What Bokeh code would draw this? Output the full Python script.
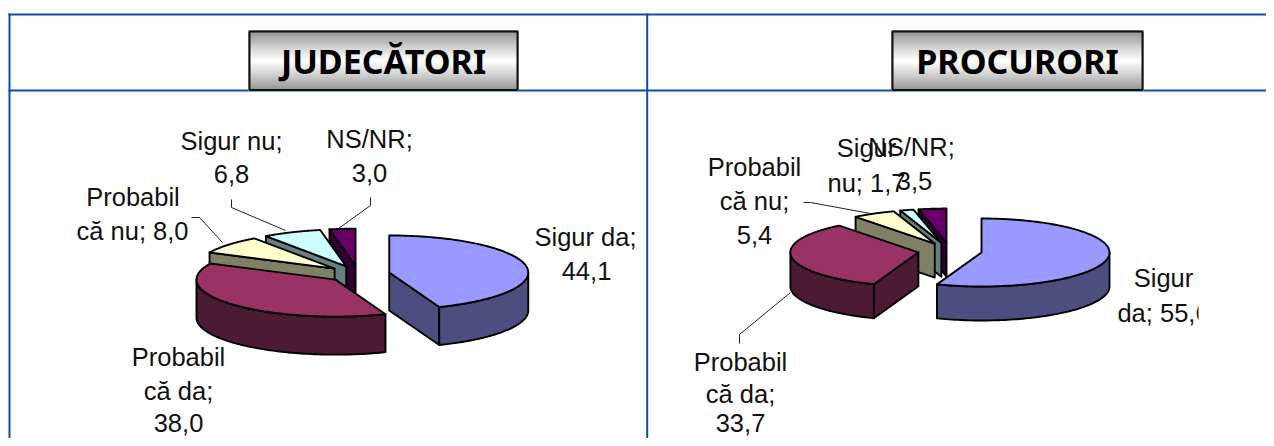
import numpy as np
from bokeh.plotting import figure
from bokeh.models import Range1d
from bokeh.core.properties import value
from bokeh.embed import file_html
from bokeh.resources import INLINE

# ---- data ----
categories = ["Sigur da", "Probabil că da", "Probabil că nu", "Sigur nu", "NS/NR"]
judecatori = [44.1, 38.0, 8.0, 6.8, 3.0]
procurori = [55.6, 33.7, 5.4, 1.7, 3.5]
titles = ["JUDECĂTORI", "PROCURORI"]
top_colors = ["#9999FF", "#993366", "#FFFFCC", "#CCFFFF", "#660066"]
wall_colors = ["#4D4D80", "#4D1A33", "#808066", "#668080", "#330033"]

BLUE = "#0B4EA2"
LABEL_FONT = "Liberation Sans"
LABEL_SIZE = "25.5px"
TITLE_FONT = "Noto Sans"
TITLE_SIZE = "34px"

p = figure(width=1266, height=438, x_range=Range1d(0, 1266), y_range=Range1d(438, 0),
           toolbar_location=None, output_backend="svg", min_border=0,
           x_axis_type=None, y_axis_type=None, outline_line_color=None,
           background_fill_color="white", border_fill_color="white")


def pie3d(vals, cx, cy, rx, ry, depth, explode):
    total = sum(vals)
    edges = np.concatenate([[0], np.cumsum(vals)]) / total * 360.0
    wedges = []
    for i, v in enumerate(vals):
        a0, a1 = edges[i], edges[i + 1]
        mid = np.radians((a0 + a1) / 2)
        wx = cx + explode * rx * np.sin(mid)
        wy = cy - explode * ry * np.cos(mid)
        wedges.append((i, a0, a1, wx, wy))
    # painter order: back wedges first
    for i, a0, a1, wx, wy in wedges[2:][::-1] + wedges[1::-1]:
        def pt(a):
            r = np.radians(a)
            return wx + rx * np.sin(r), wy - ry * np.cos(r)
        style = dict(line_color="black", line_width=1.9, line_join="round")
        for a, normal in ((a0, a0 - 90), (a1, a1 + 90)):
            if np.cos(np.radians(normal)) < -1e-6:
                x1, y1 = pt(a)
                p.patch([wx, x1, x1, wx], [wy, y1, y1 + depth, wy + depth],
                        fill_color=wall_colors[i], **style)
        lo, hi = max(a0, 90), min(a1, 270)
        if hi > lo:
            t = np.linspace(lo, hi, 80)
            xs = wx + rx * np.sin(np.radians(t))
            ys = wy - ry * np.cos(np.radians(t))
            p.patch(np.concatenate([xs, xs[::-1]]), np.concatenate([ys, ys[::-1] + depth]),
                    fill_color=wall_colors[i], **style)
        t = np.linspace(a0, a1, 120)
        xs = wx + rx * np.sin(np.radians(t))
        ys = wy - ry * np.cos(np.radians(t))
        p.patch(np.concatenate([[wx], xs]), np.concatenate([[wy], ys]),
                fill_color=top_colors[i], **style)


pie3d(judecatori, 358, 273.5, 139, 37, 38, 0.225)
pie3d(procurori, 949.5, 250.5, 128, 34, 34, 0.25)

# ---- leader lines ----
leaders = [([231, 231, 285], [199, 207, 230]),
           ([370, 370, 338], [197, 205, 228]),
           ([191, 199, 222], [217, 217, 242]),
           ([803, 810, 870], [202, 202, 213]),
           ([739, 739, 790], [343, 334, 292])]
for lx, ly in leaders:
    p.line(lx, ly, line_color="#222222", line_width=1)

TEXT_SHIFT = -10


def lab(x, y, s):
    p.text([x], [y + TEXT_SHIFT], text=[s], text_font=value(LABEL_FONT), text_font_size=LABEL_SIZE,
           text_align="center", text_baseline="alphabetic", text_color="#111111")


def num(v):
    return f"{v:.1f}".replace(".", ",")


lab(231, 150, "Sigur nu;"); lab(231, 183, num(judecatori[3]))
lab(369, 148, "NS/NR;"); lab(369, 182, num(judecatori[4]))
lab(132.5, 206, "Probabil"); lab(132, 240, f"că nu; {num(judecatori[2])}")
lab(585, 246, "Sigur da;"); lab(586, 280, num(judecatori[0]))
lab(178, 366, "Probabil"); lab(178, 400, "că da;"); lab(178, 432, num(judecatori[1]))
lab(866, 157, "Sigur"); lab(866, 192, f"nu; {num(procurori[3])}")
lab(911, 156, "NS/NR;"); lab(914, 190, num(procurori[4]))
lab(754, 176, "Probabil"); lab(754, 210, "că nu;"); lab(754, 244, num(procurori[2]))
lab(1163, 287, "Sigur"); lab(1163, 322, f"da; {num(procurori[0])}")
lab(740, 371, "Probabil"); lab(740, 403, "că da;"); lab(740, 432, num(procurori[1]))
p.quad(left=[1198], right=[1240], top=[296], bottom=[332], fill_color="white", line_color=None)

# ---- table rules ----
p.line([8, 1266], [14, 14], line_color=BLUE, line_width=2)
p.line([8, 1266], [90, 90], line_color=BLUE, line_width=2)
p.line([9, 9], [13, 438], line_color=BLUE, line_width=2)
p.line([646.7, 646.7], [13, 438], line_color=BLUE, line_width=2)


def box(x0, x1, label):
    y0, y1 = 31, 90
    rows = np.arange(y0, y1)
    f = np.abs((rows + 0.5 - (y0 + y1) / 2) / ((y1 - y0) / 2))
    g = (255 - (255 - 112) * f ** 1.1).astype(int)
    cols = [f"#{c:02x}{c:02x}{c:02x}" for c in g]
    p.quad(left=[x0] * len(rows), right=[x1] * len(rows), top=rows, bottom=rows + 1,
           fill_color=cols, line_color=None)
    p.quad(left=[x0 - 1], right=[x1 + 1], top=[y0 - 1], bottom=[y1], fill_color=None,
           line_color="#aaaaaa", line_width=1)
    p.quad(left=[x0], right=[x1], top=[y0], bottom=[y1 - 0.5], fill_color=None,
           line_color="#111111", line_width=2)
    p.text([(x0 + x1) / 2], [74 - 14], text=[label], text_font=value(TITLE_FONT), text_font_size=TITLE_SIZE,
           text_font_style="bold", text_align="center", text_baseline="alphabetic", text_color="black")


box(249, 517, titles[0])
box(892, 1142, titles[1])

open("out.html", "w").write(file_html(p, INLINE))
